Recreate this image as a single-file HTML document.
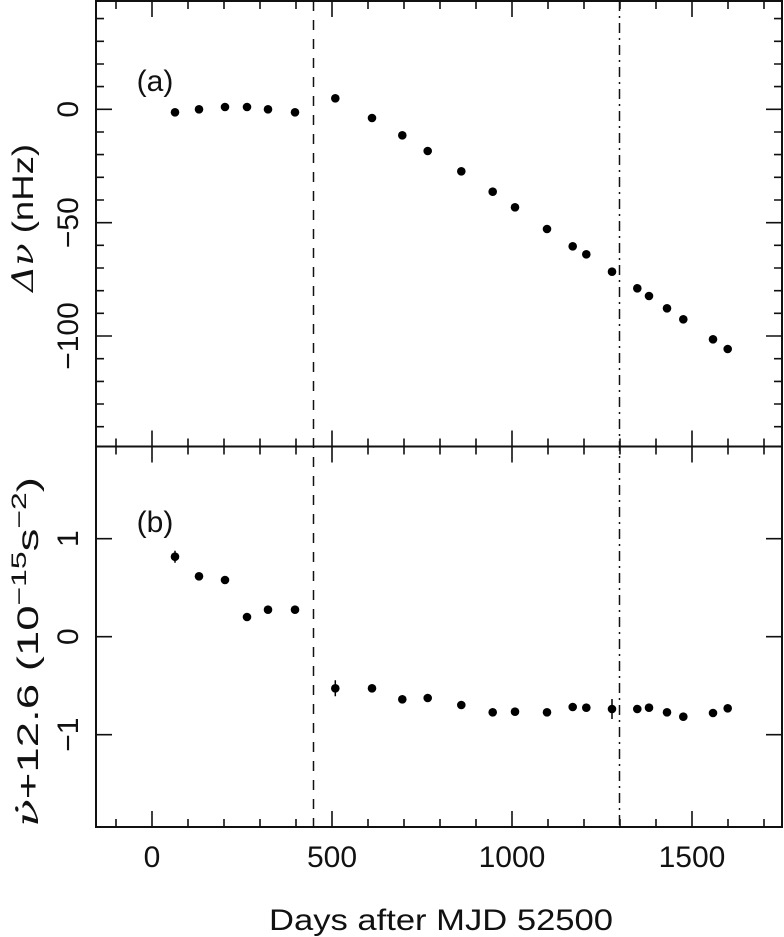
<!DOCTYPE html>
<html><head><meta charset="utf-8"><style>html,body{margin:0;padding:0;background:#fff}svg{display:block}</style></head>
<body>
<svg width="784" height="937" viewBox="0 0 784 937" xmlns="http://www.w3.org/2000/svg" font-family="Liberation Sans, DejaVu Sans, sans-serif" fill="#111">
<g stroke="#111" stroke-width="2" fill="none">
<rect x="96" y="1" width="686" height="826"/>
<line x1="96" y1="446.5" x2="782" y2="446.5"/>
</g>
<g stroke="#111" stroke-width="1.6" fill="none">
<!-- minor x ticks -->
<path d="M116 1v8M188 1v8M224 1v8M260 1v8M296 1v8M368 1v8M404 1v8M440 1v8M476 1v8M548 1v8M584 1v8M620 1v8M656 1v8M728 1v8M764 1v8
M116 438.5v16M188 438.5v16M224 438.5v16M260 438.5v16M296 438.5v16M368 438.5v16M404 438.5v16M440 438.5v16M476 438.5v16M548 438.5v16M584 438.5v16M620 438.5v16M656 438.5v16M728 438.5v16M764 438.5v16
M116 827v-8M188 827v-8M224 827v-8M260 827v-8M296 827v-8M368 827v-8M404 827v-8M440 827v-8M476 827v-8M548 827v-8M584 827v-8M620 827v-8M656 827v-8M728 827v-8M764 827v-8"/>
<!-- major x ticks -->
<path d="M152 1v16M332 1v16M512 1v16M692 1v16
M152 430.5v32M332 430.5v32M512 430.5v32M692 430.5v32
M152 827v-16M332 827v-16M512 827v-16M692 827v-16"/>
<!-- panel a y ticks -->
<path d="M96 18.6h8M96 41.3h8M96 64h8M96 86.6h8M96 132h8M96 154.6h8M96 177.3h8M96 200h8M96 245.3h8M96 268h8M96 290.7h8M96 313.3h8M96 358.7h8M96 381.4h8M96 404h8M96 426.7h8
M96 109.3h16M96 222.7h16M96 336h16
M782 18.6h-8M782 41.3h-8M782 64h-8M782 86.6h-8M782 132h-8M782 154.6h-8M782 177.3h-8M782 200h-8M782 245.3h-8M782 268h-8M782 290.7h-8M782 313.3h-8M782 358.7h-8M782 381.4h-8M782 404h-8M782 426.7h-8
M782 109.3h-16M782 222.7h-16M782 336h-16"/>
<!-- panel b y ticks -->
<path d="M96 538.7h16M96 636.7h16M96 734.7h16M782 538.7h-16M782 636.7h-16M782 734.7h-16"/>
</g>
<g stroke="#111" stroke-width="1.5" fill="none">
<line x1="313.5" y1="1" x2="313.5" y2="827" stroke-dasharray="10 9"/>
<line x1="619.5" y1="1" x2="619.5" y2="827" stroke-dasharray="10 5 2 5"/>
</g>
<g fill="#000">
<circle cx="175" cy="112.3" r="4.3"/><circle cx="199" cy="109.3" r="4.3"/><circle cx="225" cy="107" r="4.3"/><circle cx="247" cy="107" r="4.3"/><circle cx="268" cy="109.3" r="4.3"/><circle cx="295" cy="112.3" r="4.3"/><circle cx="335.3" cy="98.3" r="4.3"/><circle cx="372" cy="118" r="4.3"/><circle cx="402.3" cy="135.3" r="4.3"/><circle cx="427.7" cy="151" r="4.3"/><circle cx="461.3" cy="171.3" r="4.3"/><circle cx="492.7" cy="191.7" r="4.3"/><circle cx="515" cy="207.3" r="4.3"/><circle cx="547" cy="229" r="4.3"/><circle cx="572.7" cy="246.3" r="4.3"/><circle cx="586.3" cy="254.3" r="4.3"/><circle cx="612" cy="271.7" r="4.3"/><circle cx="637.3" cy="288.3" r="4.3"/><circle cx="649" cy="296" r="4.3"/><circle cx="667" cy="308.3" r="4.3"/><circle cx="683.3" cy="319.3" r="4.3"/><circle cx="713" cy="339.3" r="4.3"/><circle cx="727.7" cy="349" r="4.3"/>
<circle cx="175" cy="556.7" r="4.3"/><circle cx="199" cy="576.3" r="4.3"/><circle cx="225" cy="580" r="4.3"/><circle cx="247" cy="617" r="4.3"/><circle cx="268" cy="609.7" r="4.3"/><circle cx="295" cy="609.7" r="4.3"/><circle cx="335.3" cy="688.3" r="4.3"/><circle cx="372" cy="688.3" r="4.3"/><circle cx="402.3" cy="699.3" r="4.3"/><circle cx="427.7" cy="698" r="4.3"/><circle cx="461.3" cy="705" r="4.3"/><circle cx="492.7" cy="712.3" r="4.3"/><circle cx="515" cy="711.7" r="4.3"/><circle cx="547" cy="712.3" r="4.3"/><circle cx="572.7" cy="707" r="4.3"/><circle cx="586.3" cy="707.7" r="4.3"/><circle cx="612" cy="709" r="4.3"/><circle cx="637.3" cy="709" r="4.3"/><circle cx="649" cy="707.7" r="4.3"/><circle cx="667" cy="712.3" r="4.3"/><circle cx="683.3" cy="716.7" r="4.3"/><circle cx="713" cy="713" r="4.3"/><circle cx="727.7" cy="708.3" r="4.3"/>
</g>
<g stroke="#000" stroke-width="1.5">
<path d="M175 550.7v12M335.3 680.3v16M612 699v20"/>
</g>
<g font-size="30" text-anchor="middle">
<text x="152" y="867">0</text>
<text x="332" y="867">500</text>
<text x="512" y="867">1000</text>
<text x="692" y="867">1500</text>
<text x="441" y="930" textLength="344" lengthAdjust="spacingAndGlyphs">Days after MJD 52500</text>
<text x="155" y="91">(a)</text>
<text x="155" y="532">(b)</text>
<text transform="translate(78,109.3) rotate(-90)">0</text>
<text transform="translate(78,222.7) rotate(-90)">−50</text>
<text transform="translate(78,336) rotate(-90)">−100</text>
<text transform="translate(78,538.7) rotate(-90)">1</text>
<text transform="translate(78,636.7) rotate(-90)">0</text>
<text transform="translate(78,734.7) rotate(-90)">−1</text>
<text transform="translate(33,218) rotate(-90)" textLength="148" lengthAdjust="spacingAndGlyphs"><tspan font-family="DejaVu Serif, Liberation Serif, serif" font-style="italic">Δν</tspan> (nHz)</text>
<text transform="translate(38,652) rotate(-90)" textLength="350" lengthAdjust="spacingAndGlyphs"><tspan font-family="DejaVu Serif, Liberation Serif, serif" font-style="italic">ν̇</tspan>+12.6 (10<tspan font-size="21" dy="-12">−15</tspan><tspan dy="12">s</tspan><tspan font-size="21" dy="-12">−2</tspan><tspan dy="12">)</tspan></text>
</g>
</svg>
</body></html>
